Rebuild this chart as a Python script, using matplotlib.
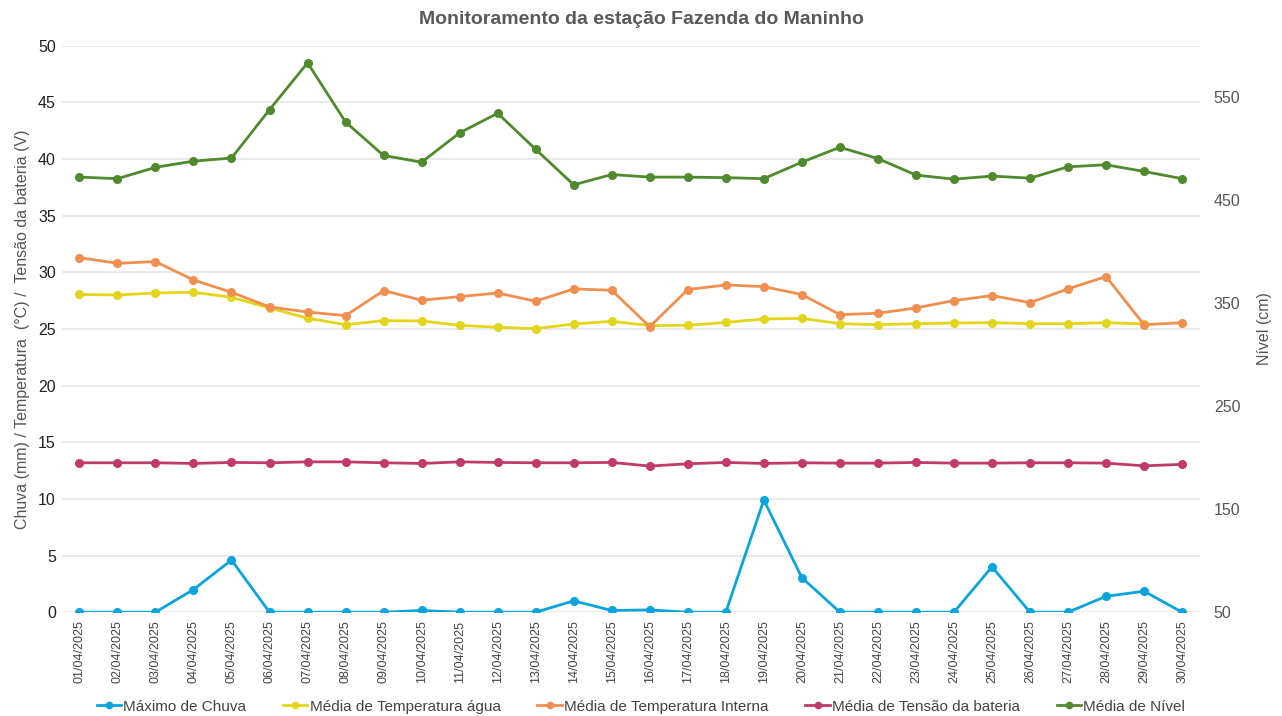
import matplotlib
matplotlib.use("Agg")
import matplotlib.pyplot as plt
from matplotlib.lines import Line2D

plt.rcParams['font.family'] = ['Liberation Sans', 'DejaVu Sans']

# datas do mês de abril
datas = ['%02d/04/2025' % d for d in range(1, 31)]

chuva_max = [0, 0, 0, 2.0, 4.6, 0, 0, 0, 0, 0.15, 0, 0, 0, 1.0, 0.15,
             0.2, 0, 0, 9.9, 3.05, 0, 0, 0, 0, 4.0, 0, 0, 1.4, 1.85, 0]
temp_agua = [28.05, 28.0, 28.18, 28.24, 27.8, 26.86, 25.95, 25.38, 25.74, 25.71,
             25.32, 25.15, 25.03, 25.44, 25.68, 25.3, 25.32, 25.59, 25.88, 25.94,
             25.47, 25.38, 25.47, 25.53, 25.56, 25.47, 25.47, 25.56, 25.45]
temp_interna = [31.3, 30.8, 30.95, 29.33, 28.24, 26.95, 26.5, 26.18, 28.39, 27.54,
                27.86, 28.18, 27.45, 28.54, 28.42, 25.2, 28.48, 28.89, 28.74, 28.04,
                26.27, 26.39, 26.86, 27.51, 27.95, 27.33, 28.54, 29.63, 25.38, 25.56]
tensao_bat = [13.19, 13.19, 13.19, 13.13, 13.22, 13.19, 13.27, 13.27, 13.19, 13.13,
              13.27, 13.22, 13.19, 13.19, 13.22, 12.9, 13.1, 13.22, 13.13, 13.19,
              13.16, 13.16, 13.22, 13.16, 13.16, 13.19, 13.19, 13.16, 12.92, 13.05]
nivel = [472.5, 471, 482, 488, 491, 538, 583.5, 526, 493.5, 487,
         515.5, 534.5, 499.5, 465, 475, 472.5, 472.5, 472, 471, 487,
         501.5, 490.5, 474.5, 470.5, 473.5, 471.5, 482.5, 484.5, 478, 471]

cores = {
    'chuva': '#0BA3DB',
    'agua': '#E2D51C',
    'interna': '#F08F50',
    'bateria': '#C03A6C',
    'nivel': '#508A2E',
}

fig = plt.figure(figsize=(12.82, 7.16), dpi=100)
ax = fig.add_axes([0.048, 0.145, 0.888, 0.791])
ax2 = ax.twinx()

x = list(range(len(datas)))
estilo = dict(lw=2, marker='o', ms=5.5)
ax.plot(x, chuva_max, color=cores['chuva'], **estilo)
ax.plot(x[:len(temp_agua)], temp_agua, color=cores['agua'], **estilo)
ax.plot(x, temp_interna, color=cores['interna'], **estilo)
ax.plot(x, tensao_bat, color=cores['bateria'], **estilo)
ax2.plot(x, nivel, color=cores['nivel'], **estilo)

ax.set_xlim(-0.47, len(datas) - 1 + 0.47)
ax.set_ylim(0, 50)
ax2.set_ylim(50, 600)
ax.set_yticks(range(0, 51, 5))
ax2.set_yticks(range(50, 551, 100))
ax.set_xticks(x)
ax.set_xticklabels(datas, rotation=90, fontsize=9, color='#444444')

ax.grid(axis='y', color='#E6E6E6', lw=1.2)
ax.set_axisbelow(True)
for a in (ax, ax2):
    for s in a.spines.values():
        s.set_visible(False)
    a.tick_params(length=0)
ax.tick_params(axis='y', labelsize=11.5, labelcolor='#222222', pad=4)
ax.tick_params(axis='x', pad=6)
ax2.tick_params(axis='y', labelsize=11.5, labelcolor='#555555', pad=10)

ax.set_ylabel('Chuva (mm) / Temperatura  (°C) /  Tensão da bateria (V)',
              fontsize=11.5, color='#555555', labelpad=6)
ax2.set_ylabel('Nível (cm)', fontsize=11.5, color='#555555', labelpad=12)

fig.suptitle('Monitoramento da estação Fazenda do Maninho', y=0.984,
             fontsize=14, fontweight='bold', color='#595959')

nomes = ['Máximo de Chuva', 'Média de Temperatura água', 'Média de Temperatura Interna',
         'Média de Tensão da bateria', 'Média de Nível']
handles = [Line2D([], [], color=c, lw=2, marker='o', ms=4.5)
           for c in cores.values()]
fig.legend(handles, nomes, loc='lower center', bbox_to_anchor=(0.5, -0.016),
           ncol=5, frameon=False, fontsize=11, handlelength=1.6,
           handletextpad=0.15, columnspacing=2.4, labelcolor='#444444')

fig.savefig('out.png', dpi=100)
